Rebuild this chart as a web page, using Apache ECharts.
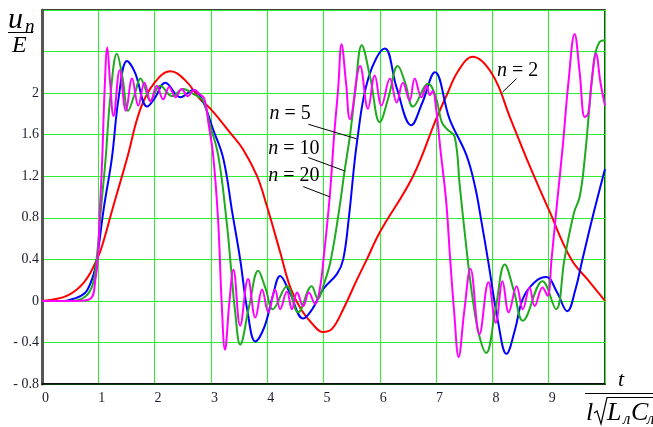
<!DOCTYPE html>
<html><head><meta charset="utf-8">
<script src="https://cdn.jsdelivr.net/npm/echarts@6/dist/echarts.min.js"></script>
<style>html,body{margin:0;padding:0;background:#fff}#c{width:653px;height:427px}</style>
</head><body><div id="c"></div>
<script>
// x ticks 0..10 step 1, y ticks -0.8..2.8 step 0.4
const xRange = [0, 10];
const yRange = [-0.8, 2.8];
const hiddenYLabels = [2.4, 2.8];

// n = 2 (red)
const n2 = [[0,0],[0.27,0.02],[0.45,0.05],[0.62,0.11],[0.75,0.18],[0.86,0.27],[0.95,0.37],[1.05,0.5],[1.25,0.88],[1.51,1.37],[1.75,1.85],[2.0,2.1],[2.28,2.21],[2.55,2.12],[2.81,1.94],[2.99,1.85],[3.34,1.62],[3.57,1.46],[3.82,1.2],[3.99,0.92],[4.23,0.47],[4.41,0.13],[4.6,-0.08],[4.8,-0.22],[4.99,-0.3],[5.15,-0.27],[5.35,-0.08],[5.59,0.2],[5.77,0.4],[6.0,0.66],[6.59,1.2],[7.0,1.75],[7.18,1.97],[7.4,2.22],[7.65,2.35],[8.0,2.18],[8.31,1.77],[8.6,1.38],[9.0,0.88],[9.4,0.4],[9.7,0.2],[10,0.0]];
// n = 5 (blue)
const n5 = [[0,0],[0.4,0],[0.56,0.02],[0.7,0.05],[0.8,0.1],[0.92,0.26],[0.98,0.42],[1.1,0.9],[1.24,1.37],[1.36,1.95],[1.51,2.31],[1.65,2.2],[1.87,1.87],[2.0,1.95],[2.19,2.1],[2.46,1.96],[2.69,2.03],[2.85,1.93],[3.04,1.65],[3.22,1.37],[3.38,0.85],[3.52,0.4],[3.65,-0.1],[3.79,-0.39],[3.95,-0.25],[4.1,0.05],[4.23,0.24],[4.4,0.08],[4.64,-0.17],[4.8,-0.08],[4.99,0.11],[5.24,0.26],[5.35,0.4],[5.45,0.8],[5.6,1.55],[5.8,2.15],[6.09,2.43],[6.3,2.05],[6.56,1.69],[6.75,1.9],[6.98,2.2],[7.24,1.75],[7.54,1.4],[7.7,1.08],[7.8,0.78],[7.92,0.4],[8.1,-0.2],[8.25,-0.51],[8.4,-0.28],[8.54,0.02],[8.75,0.18],[8.96,0.23],[9.15,0.08],[9.33,-0.1],[9.47,0.1],[9.6,0.4],[9.8,0.85],[10,1.27]];
// n = 10 (green)
const n10 = [[0,0],[0.5,0],[0.74,0.03],[0.89,0.14],[0.97,0.4],[1.05,0.9],[1.13,1.37],[1.22,2.0],[1.33,2.38],[1.43,2.15],[1.53,1.83],[1.64,1.98],[1.75,2.14],[1.83,2.05],[1.92,1.93],[2.1,2.07],[2.31,1.97],[2.51,2.04],[2.69,1.99],[2.86,1.93],[2.98,1.7],[3.13,1.4],[3.28,0.76],[3.36,0.3],[3.43,-0.1],[3.52,-0.42],[3.68,-0.05],[3.84,0.29],[3.97,0.12],[4.1,-0.08],[4.35,0.14],[4.55,-0.11],[4.79,0.14],[4.9,0.02],[5.0,0.15],[5.12,0.37],[5.26,0.81],[5.38,1.27],[5.47,1.59],[5.56,2.0],[5.68,2.46],[5.83,2.15],[6.0,1.72],[6.15,1.95],[6.32,2.26],[6.45,2.1],[6.59,1.87],[6.86,2.09],[7.0,1.95],[7.1,1.72],[7.2,1.65],[7.33,1.58],[7.42,1.11],[7.54,0.5],[7.65,0.02],[7.76,-0.32],[7.89,-0.5],[8.05,-0.1],[8.22,0.35],[8.38,0.1],[8.54,-0.19],[8.89,0.19],[9.13,-0.08],[9.28,0.4],[9.45,0.85],[9.55,1.0],[9.64,1.37],[9.81,2.33],[9.9,2.49],[10,2.51]];
// n = 20 (magenta)
const n20 = [[0,0],[0.6,0],[0.86,0.02],[0.95,0.21],[0.99,0.4],[1.03,0.9],[1.07,1.37],[1.11,2.0],[1.16,2.44],[1.21,2.1],[1.27,1.78],[1.38,2.22],[1.49,1.83],[1.6,2.14],[1.71,1.88],[1.82,2.1],[1.93,1.92],[2.04,2.07],[2.15,1.94],[2.26,2.06],[2.37,1.96],[2.48,2.04],[2.59,1.97],[2.7,2.03],[2.8,1.99],[2.88,1.95],[2.96,1.7],[3.04,1.4],[3.13,0.76],[3.19,0.0],[3.25,-0.47],[3.33,0.0],[3.4,0.3],[3.52,-0.24],[3.66,0.21],[3.79,-0.16],[3.91,0.11],[4.02,-0.11],[4.14,0.11],[4.23,-0.08],[4.35,0.09],[4.44,-0.08],[4.53,0.08],[4.64,-0.05],[4.74,0.08],[4.85,-0.03],[4.93,0.1],[5.0,0.4],[5.11,1.0],[5.19,1.6],[5.26,2.04],[5.32,2.47],[5.4,2.1],[5.47,1.75],[5.65,2.26],[5.79,1.85],[5.91,2.17],[6.03,1.88],[6.18,2.14],[6.3,1.91],[6.41,2.1],[6.53,1.93],[6.62,2.14],[6.74,1.96],[6.83,2.07],[6.89,1.98],[6.94,2.02],[7.0,1.85],[7.07,1.49],[7.18,0.95],[7.25,0.4],[7.32,-0.1],[7.4,-0.54],[7.5,-0.1],[7.61,0.31],[7.77,-0.32],[7.93,0.18],[8.06,-0.21],[8.18,0.19],[8.29,-0.11],[8.43,0.14],[8.54,-0.08],[8.66,0.13],[8.75,-0.05],[8.89,0.13],[8.98,0.05],[9.05,0.4],[9.15,0.95],[9.25,1.49],[9.35,2.1],[9.46,2.57],[9.55,2.2],[9.64,1.77],[9.7,1.8],[9.76,2.1],[9.84,2.38],[9.92,2.1],[10,1.88]];

// annotation labels: [label number, text anchor (data x,y), leader from, leader to]
const notes = [
  {num:'5',  at:[4.04,1.80], from:[4.73,1.70], to:[5.59,1.56]},
  {num:'10', at:[4.02,1.46], from:[4.73,1.38], to:[5.38,1.25]},
  {num:'20', at:[4.02,1.20], from:[4.64,1.10], to:[5.12,1.00]},
  {num:'2',  at:[8.08,2.22], from:[8.43,2.14], to:[8.18,2.01]}
];

const FONT = '"Liberation Serif","Times New Roman",serif';
const chart = echarts.init(document.getElementById('c'), null, {renderer:'canvas'});

function mk(name, data, color, w){
  return {name, type:'line', data, showSymbol:false, symbol:'none', smooth:0.4,
    lineStyle:{color, width:w||2}, itemStyle:{color}, z:3};
}
const fmtY = v => {
  const r = Math.round(v*10)/10;
  if (hiddenYLabels.some(h => Math.abs(h-r)<1e-6)) return '';
  if (r < 0) return '- ' + String(-r);
  return String(r);
};

chart.setOption({
  animation:false,
  backgroundColor:'#fff',
  grid:{left:42, right:48, top:10, bottom:43, show:true, borderColor:'#000', borderWidth:1.5, backgroundColor:'transparent'},
  xAxis:{type:'value', min:xRange[0], max:xRange[1], interval:1,
    axisLine:{show:true, onZero:false, lineStyle:{color:'#000', width:1.5}},
    axisTick:{show:false},
    splitLine:{show:true, lineStyle:{color:'#2cf02c', width:1}},
    axisLabel:{align:'left', margin:7, color:'#1c1c2c', fontFamily:FONT, fontSize:14,
      formatter: v => (v>=10 ? '' : String(v))}},
  yAxis:{type:'value', min:yRange[0], max:yRange[1], interval:0.4,
    axisLine:{show:true, onZero:false, lineStyle:{color:'#555', width:3}},
    axisTick:{show:false},
    splitLine:{show:true, lineStyle:{color:'#2cf02c', width:1}},
    axisLabel:{margin:3, color:'#1c1c2c', fontFamily:FONT, fontSize:14, formatter: fmtY}},
  series:[
    mk('n=2', n2, '#ff0000'),
    mk('n=5', n5, '#0000ff'),
    mk('n=10', n10, '#1faa1f'),
    mk('n=20', n20, '#ff00ff')
  ]
});

const els = [];
notes.forEach(n => {
  const p = chart.convertToPixel({gridIndex:0}, n.at);
  const a = chart.convertToPixel({gridIndex:0}, n.from);
  const b = chart.convertToPixel({gridIndex:0}, n.to);
  els.push({type:'text', x:p[0], y:p[1], z:10, style:{text:'{i|n} = '+n.num, fontFamily:FONT, fontSize:20, fill:'#000', verticalAlign:'middle',
    rich:{i:{fontStyle:'italic', fontFamily:FONT, fontSize:20, fill:'#000'}}}});
  els.push({type:'line', z:10, shape:{x1:a[0], y1:a[1], x2:b[0], y2:b[1]}, style:{stroke:'#000', lineWidth:1}});
});
// y-axis title u_n / E
els.push({type:'text', x:8, y:20, z:10, style:{text:'u', fontFamily:FONT, fontStyle:'italic', fontSize:30, fill:'#000', verticalAlign:'middle'}});
els.push({type:'text', x:25, y:27, z:10, style:{text:'n', fontFamily:FONT, fontStyle:'italic', fontSize:19, fill:'#000', verticalAlign:'middle'}});
els.push({type:'line', z:10, shape:{x1:8, y1:32.5, x2:33, y2:32.5}, style:{stroke:'#000', lineWidth:1}});
els.push({type:'text', x:12, y:46, z:10, style:{text:'E', fontFamily:FONT, fontStyle:'italic', fontSize:24, fill:'#000', verticalAlign:'middle'}});
// x-axis title t / l sqrt(L C)
els.push({type:'text', x:621, y:380, z:10, style:{text:'t', fontFamily:FONT, fontStyle:'italic', fontSize:22, fill:'#000', align:'center', verticalAlign:'middle'}});
els.push({type:'line', z:10, shape:{x1:585, y1:393.5, x2:653, y2:393.5}, style:{stroke:'#000', lineWidth:1}});
els.push({type:'text', x:586, y:413, z:10, style:{text:'l', fontFamily:FONT, fontStyle:'italic', fontSize:26, fill:'#000', verticalAlign:'middle'}});
els.push({type:'polyline', z:10, shape:{points:[[594,413],[597,411],[601,424],[607,397.5],[653,397.5]]}, style:{stroke:'#000', lineWidth:1.2, fill:null}});
els.push({type:'text', x:607, y:413, z:10, style:{text:'L', fontFamily:FONT, fontStyle:'italic', fontSize:26, fill:'#000', verticalAlign:'middle'}});
els.push({type:'text', x:623, y:420, z:10, style:{text:'л', fontFamily:FONT, fontStyle:'italic', fontSize:17, fill:'#000', verticalAlign:'middle'}});
els.push({type:'text', x:631, y:413, z:10, style:{text:'C', fontFamily:FONT, fontStyle:'italic', fontSize:26, fill:'#000', verticalAlign:'middle'}});
els.push({type:'text', x:647, y:420, z:10, style:{text:'л', fontFamily:FONT, fontStyle:'italic', fontSize:17, fill:'#000', verticalAlign:'middle'}});
chart.setOption({graphic:{elements:els}});
</script></body></html>
